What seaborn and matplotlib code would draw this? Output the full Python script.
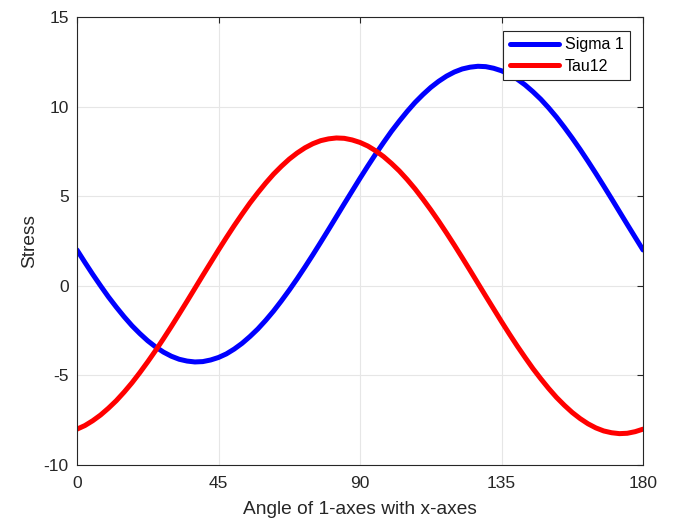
import pandas as pd
import matplotlib.pyplot as plt
import seaborn as sns

# Values, every 2.5 degrees
angle = [i * 2.5 for i in range(73)]
sigma_1 = [2.0, 1.31, 0.64, 0.00, -0.62, -1.19, -1.73, -2.23, -2.67, -3.07,
           -3.41, -3.70, -3.93, -4.10, -4.20, -4.25, -4.23, -4.14, -4.0, -3.80,
           -3.53, -3.21, -2.83, -2.41, -1.93, -1.41, -0.84, -0.24, 0.39, 1.05,
           1.73, 2.43, 3.14, 3.86, 4.58, 5.29, 6.0, 6.69, 7.36, 8.00,
           8.62, 9.19, 9.73, 10.23, 10.67, 11.07, 11.41, 11.70, 11.93, 12.10,
           12.20, 12.25, 12.23, 12.14, 12.0, 11.80, 11.53, 11.21, 10.83, 10.41,
           9.93, 9.41, 8.84, 8.24, 7.61, 6.95, 6.27, 5.57, 4.86, 4.14,
           3.42, 2.71, 2.0]
tau_12 = [-8.0, -7.80, -7.53, -7.21, -6.83, -6.41, -5.93, -5.41, -4.84, -4.24,
          -3.61, -2.95, -2.27, -1.57, -0.86, -0.14, 0.58, 1.29, 2.0, 2.69,
          3.36, 4.00, 4.62, 5.19, 5.73, 6.23, 6.67, 7.07, 7.41, 7.70,
          7.93, 8.10, 8.20, 8.25, 8.23, 8.14, 8.0, 7.80, 7.53, 7.21,
          6.83, 6.41, 5.93, 5.41, 4.84, 4.24, 3.61, 2.95, 2.27, 1.57,
          0.86, 0.14, -0.58, -1.29, -2.0, -2.69, -3.36, -4.00, -4.62, -5.19,
          -5.73, -6.23, -6.67, -7.07, -7.41, -7.70, -7.93, -8.10, -8.20, -8.25,
          -8.23, -8.14, -8.0]
series_names = ["Sigma 1", "Tau12"]
x_ticks = [0, 45, 90, 135, 180]
y_ticks = [-10, -5, 0, 5, 10, 15]

df = pd.DataFrame({
    "angle": angle * 2,
    "stress": sigma_1 + tau_12,
    "series": [series_names[0]] * len(angle) + [series_names[1]] * len(angle),
})

sns.set_style("white")
plt.rcParams["font.family"] = ["Liberation Sans", "DejaVu Sans"]
plt.rcParams["axes.unicode_minus"] = False

fig = plt.figure(figsize=(6.79, 5.25), dpi=100)
ax = fig.add_axes([0.1134, 0.1143, 0.8336, 0.8533])

sns.lineplot(data=df, x="angle", y="stress", hue="series",
             palette=["#0000ff", "#ff0000"], linewidth=3.6, ax=ax)

ax.set_xlim(0, 180)
ax.set_ylim(-10, 15)
ax.set_xticks(x_ticks)
ax.set_yticks(y_ticks)
ax.grid(True, color="#e6e6e6", linewidth=0.8)
ax.tick_params(direction="in", length=4, width=0.8, colors="#262626",
               labelsize=12.5, top=True, right=True)
ax.tick_params(axis="x", labeltop=False, pad=8)
ax.tick_params(axis="y", labelright=False, pad=6)
for sp in ax.spines.values():
    sp.set_visible(True)
    sp.set_color("#262626")
    sp.set_linewidth(0.8)

ax.set_xlabel("Angle of 1-axes with x-axes", fontsize=13.8, color="#262626", labelpad=7)
ax.set_ylabel("Stress", fontsize=13.8, color="#262626", labelpad=4)

leg = ax.legend(loc="upper right", bbox_to_anchor=(0.977, 0.969), fontsize=11.5,
                fancybox=False, framealpha=1, edgecolor="#262626",
                handlelength=3.1, borderpad=0.4, labelspacing=0.4,
                handletextpad=0.35, borderaxespad=0)
leg.get_frame().set_linewidth(0.8)
for t in leg.get_texts():
    t.set_color("#000000")

fig.savefig("out.png", dpi=100)
